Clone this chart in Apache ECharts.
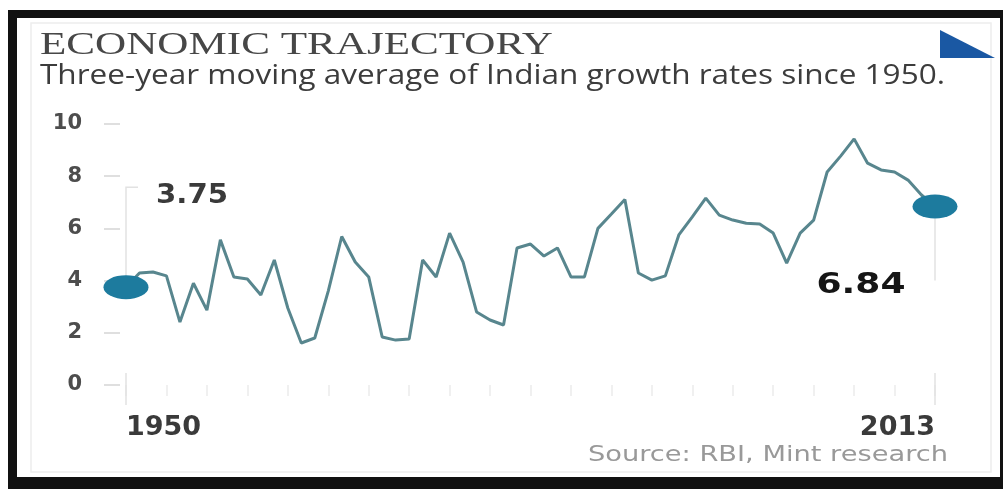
<!DOCTYPE html>
<html><head><meta charset="utf-8">
<script src="https://cdn.jsdelivr.net/npm/echarts@6/dist/echarts.min.js"></script>
<style>html,body{margin:0;padding:0;background:#fff}#c{width:1003px;height:489px}</style>
</head><body><div id="c"></div>
<script>
// Three-year moving average of Indian growth rates, 1950 .. 2013
const growth = [
  3.75, 4.29, 4.33, 4.18, 2.41, 3.90, 2.87, 5.56, 4.14, 4.06,
  3.45, 4.79, 2.95, 1.61, 1.80, 3.60, 5.69, 4.71, 4.14, 1.84,
  1.72, 1.76, 4.79, 4.14, 5.82, 4.71, 2.80, 2.49, 2.30, 5.25,
  5.40, 4.94, 5.25, 4.14, 4.14, 6.00, 6.55, 7.11, 4.29, 4.02,
  4.18, 5.75, 6.44, 7.16, 6.51, 6.32, 6.20, 6.17, 5.82, 4.67,
  5.82, 6.32, 8.16, 8.77, 9.43, 8.50, 8.24, 8.16, 7.85, 7.28,
  6.84
];
const xLabels = ['1950', '2013'];
const yTicks = [0, 2, 4, 6, 8, 10];
const titleText = 'ECONOMIC TRAJECTORY';
const subtitleText = 'Three-year moving average of Indian growth rates since 1950.';
const sourceText = 'Source: RBI, Mint research';

const n = growth.length;
const categories = growth.map((_, i) => String(i));

const mctx = document.createElement('canvas').getContext('2d');
function measure(text, weight, size, family) {
  mctx.font = weight + ' ' + size + 'px ' + family;
  return mctx.measureText(text).width;
}
function stretchedText(id, text, x, y, opts) {
  const w = measure(text, opts.weight, opts.size, opts.family);
  return {
    type: 'text', id: id, x: x, y: y, z: 50,
    scaleX: opts.target / w, silent: true,
    style: {
      text: text, x: 0, y: 0,
      fontFamily: opts.family, fontSize: opts.size, fontWeight: opts.weight,
      fill: opts.fill, textAlign: opts.align, textVerticalAlign: 'middle'
    }
  };
}

const chart = echarts.init(document.getElementById('c'), null, {renderer: 'canvas'});
chart.setOption({
  animation: false,
  backgroundColor: '#ffffff',
  grid: {left: 126, right: 68, top: 124, bottom: 104},
  xAxis: {
    type: 'category', data: categories, boundaryGap: false,
    axisLine: {show: false},
    axisTick: {show: true, interval: 2, length: 11, lineStyle: {color: '#ececec', width: 1.5}},
    axisLabel: {
      interval: (i) => i === 0 || i === n - 1,
      formatter: (v, i) => (i === 0 ? xLabels[0] : xLabels[1]),
      margin: 29, fontFamily: 'DejaVu Sans', fontWeight: 'bold', fontSize: 27, color: '#3a3a3a',
      alignMinLabel: 'left', alignMaxLabel: 'right'
    },
    splitLine: {show: false}
  },
  yAxis: {
    type: 'value', min: yTicks[0], max: yTicks[yTicks.length - 1], interval: yTicks[1] - yTicks[0],
    offset: 6,
    axisLine: {show: false},
    axisTick: {show: true, length: 16, lineStyle: {color: '#d5d5d5', width: 1.5}},
    axisLabel: {margin: 38, fontFamily: 'DejaVu Sans', fontWeight: 'bold', fontSize: 21, color: '#4d4d4d'},
    splitLine: {show: false}
  },
  series: [{
    type: 'line', silent: true, showSymbol: true, symbol: 'none', z: 3,
    lineStyle: {color: '#58868e', width: 3},
    data: growth.map((v, i) => (i === 0 || i === n - 1)
      ? {value: v, symbol: 'circle', symbolSize: [45, 24], itemStyle: {color: '#1d7b9e'}}
      : {value: v, symbol: 'none'})
  }]
});

const p0 = chart.convertToPixel({seriesIndex: 0}, [0, growth[0]]);
const p1 = chart.convertToPixel({seriesIndex: 0}, [n - 1, growth[n - 1]]);
const base0 = chart.convertToPixel({seriesIndex: 0}, [0, 0]);
const base1 = chart.convertToPixel({seriesIndex: 0}, [n - 1, 0]);
const faint = {stroke: '#e2e2e2', lineWidth: 1.5};

chart.setOption({
  graphic: [
    {type: 'rect', id: 'frameOuter', z: -10, silent: true, shape: {x: 8, y: 10, width: 995, height: 479}, style: {fill: '#111'}},
    {type: 'rect', id: 'frameInner', z: -9, silent: true, shape: {x: 17, y: 18, width: 983, height: 459}, style: {fill: '#fff'}},
    {type: 'rect', id: 'frameFaint', z: -8, silent: true, shape: {x: 31, y: 23, width: 960, height: 449}, style: {fill: 'none', stroke: '#ededed', lineWidth: 1.5}},
    {type: 'polygon', id: 'tri', z: 20, silent: true, shape: {points: [[940, 30], [940, 58], [995, 58]]}, style: {fill: '#1a58a3'}},
    stretchedText('title', titleText, 40, 46, {family: '"Liberation Serif"', size: 31, weight: 'normal', fill: '#474747', align: 'left', target: 513}),
    stretchedText('subtitle', subtitleText, 40, 76, {family: '"Open Sans"', size: 27, weight: 'normal', fill: '#3c3c3c', align: 'left', target: 905}),
    stretchedText('source', sourceText, 948, 456, {family: '"DejaVu Sans"', size: 21, weight: 'normal', fill: '#999999', align: 'right', target: 360}),
    stretchedText('startVal', growth[0].toFixed(2), p0[0] + 66, p0[1] - 91, {family: '"DejaVu Sans"', size: 27, weight: 'bold', fill: '#3a3a3a', align: 'center', target: 72}),
    stretchedText('endVal', growth[n - 1].toFixed(2), p1[0] - 74, p1[1] + 79, {family: '"DejaVu Sans"', size: 29, weight: 'bold', fill: '#151515', align: 'center', target: 89}),
    {type: 'polyline', id: 'lead0', z: 1, silent: true, shape: {points: [[p0[0] + 12, p0[1] - 100], [p0[0], p0[1] - 100], [p0[0], p0[1] - 11]]}, style: {fill: 'none', stroke: '#e2e2e2', lineWidth: 1.5}},
    {type: 'line', id: 'lead1', z: 1, silent: true, shape: {x1: p1[0], y1: p1[1] + 12, x2: p1[0], y2: p1[1] + 74}, style: faint},
    {type: 'line', id: 'tick0', z: 1, silent: true, shape: {x1: base0[0], y1: base0[1] - 12, x2: base0[0], y2: base0[1] + 20}, style: faint},
    {type: 'line', id: 'tick1', z: 1, silent: true, shape: {x1: base1[0], y1: base1[1] - 12, x2: base1[0], y2: base1[1] + 20}, style: faint}
  ]
});
</script>
</body></html>
